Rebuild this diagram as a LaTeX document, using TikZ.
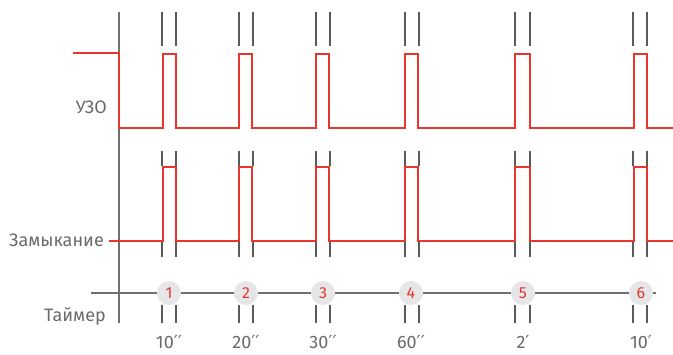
\documentclass[tikz,border=0pt]{standalone}
\usepackage{fontspec}
\setmainfont{Fira Sans}
\newfontfamily\dejavu{DejaVu Sans}
\definecolor{sigred}{HTML}{E8362D}
\definecolor{axgray}{HTML}{707070}
\definecolor{txtgray}{HTML}{6A6A6A}
\definecolor{circfill}{HTML}{E6E6E8}
\begin{document}
\begin{tikzpicture}[x=1pt,y=-1pt,
  sig/.style={draw=sigred,line width=2pt,line join=miter},
  ax/.style={draw=axgray,line width=1.4pt},
  tk/.style={draw=axgray!80!black,line width=1.3pt},
  lbl/.style={text=txtgray,font=\fontsize{18}{20}\selectfont,inner sep=0pt},
  num/.style={circle,fill=circfill,minimum size=24pt,inner sep=0pt,text=sigred,font=\fontsize{16}{18}\selectfont}]
\useasboundingbox (0,0) rectangle (673,354);
% axes
\draw[ax] (119,12) -- (119,323);
\coordinate (tl) at (91,293);
\coordinate (tr) at (656,293);
\draw[ax] (tl) -- (tr);
% signals
\draw[sig] (73,53) -- (119,53) -- (119,128)
  \foreach \a/\b in {163/176,239/252,316/329,405/418,515/530,634/647}{ -- (\a,128) -- (\a,54) -- (\b,54) -- (\b,128)} -- (673,128);
\draw[sig] (109,241)
  \foreach \a/\b in {163/176,239/252,316/329,405/418,515/530,634/647}{ -- (\a,241) -- (\a,167) -- (\b,167) -- (\b,241)} -- (673,241);
% ticks
\foreach \a/\b in {162/176,239/253,316/330,405/419,515/530,633/647}{
  \draw[tk] (\a,12) -- (\a,46) (\b,12) -- (\b,46);
  \draw[tk] (\a,151) -- (\a,166) (\b,151) -- (\b,166);
  \draw[tk] (\a,242) -- (\a,257) (\b,242) -- (\b,257);
  \draw[tk] (\a,305) -- (\a,323) (\b,305) -- (\b,323);
}
% circles
\foreach \n/\x in {1/169,2/246,3/323,4/411,5/523,6/641}{
  \node[num] (c\n) at (\x,293) {\n};
}
% time labels
\foreach \n/\x/\t in {1/169/10{\dejavu′′},2/246/20{\dejavu′′},3/323/30{\dejavu′′},4/411/60{\dejavu′′},5/523/2{\dejavu′},6/641/10{\dejavu′}}{
  \node[lbl] (t\n) at (\x,342) {\t};
}
% row labels
\node[lbl,anchor=east] (uzo) at (107,107) {УЗО};
\node[lbl,anchor=east] (zam) at (104,240) {Замыкание};
\node[lbl,anchor=east] (tim) at (106,316) {Таймер};
\end{tikzpicture}
\end{document}
